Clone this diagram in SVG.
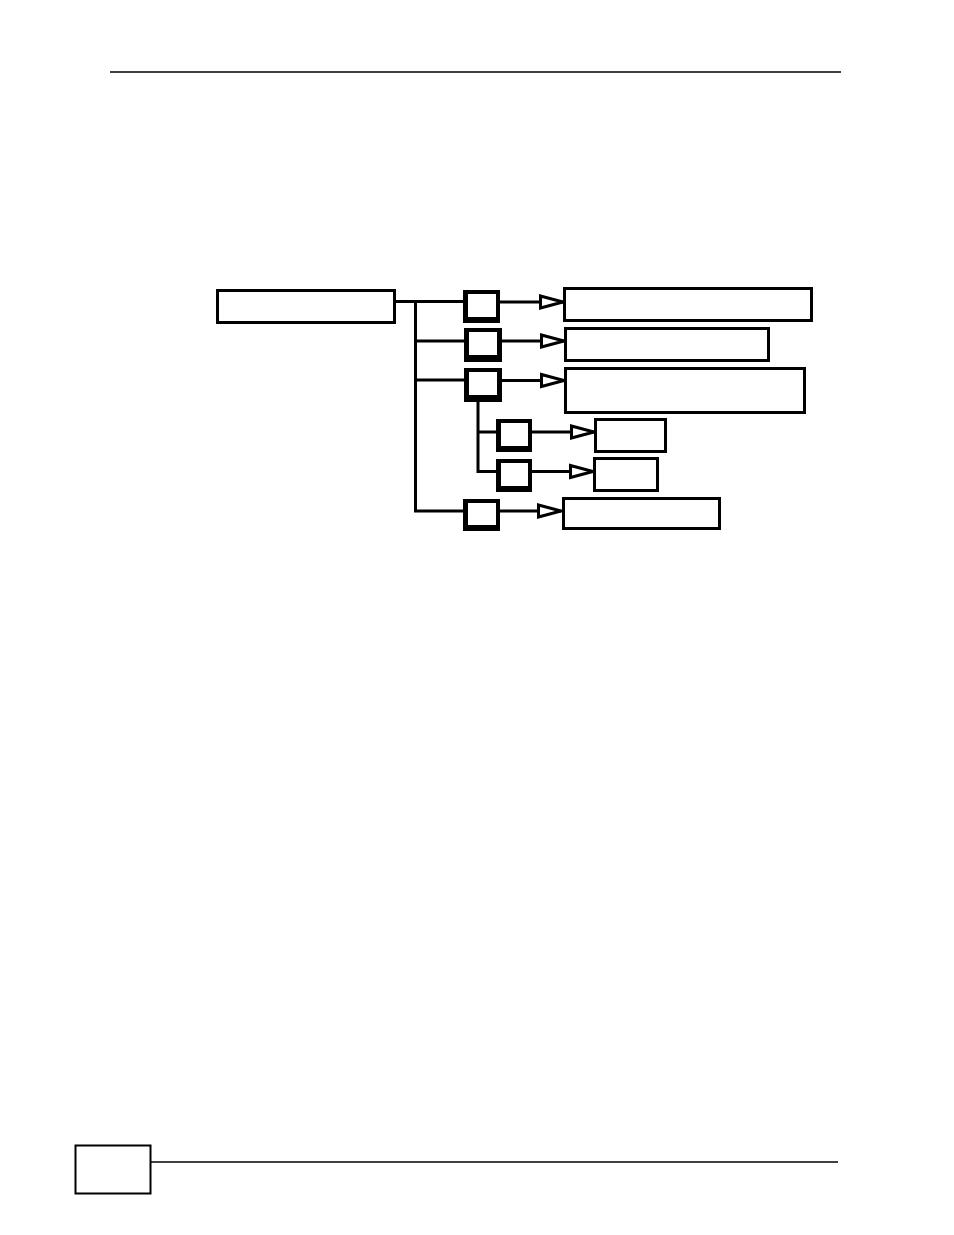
<svg xmlns="http://www.w3.org/2000/svg" width="954" height="1235" viewBox="0 0 954 1235">
<defs>
<style>
.box{fill:#fff;stroke:#000;stroke-width:3}
.ln{stroke:#000;stroke-width:3;fill:none}
.thin{stroke:#000;stroke-width:1.5;fill:none}
.sq{fill:#000}
.sqi{fill:#fff}
</style>
<marker id="arr" markerUnits="userSpaceOnUse" markerWidth="30" markerHeight="20" refX="24" refY="7" orient="auto" overflow="visible">
<path d="M1.5,1 L24,7 L1.5,13 Z" fill="#fff" stroke="#000" stroke-width="3" stroke-linejoin="miter"/>
</marker>
</defs>
<rect width="954" height="1235" fill="#fff"/>
<g id="page">
<line class="thin" x1="110" y1="72" x2="841" y2="72"/>
<rect x="75.5" y="1145.5" width="75" height="48" fill="none" stroke="#000" stroke-width="2"/>
<line class="thin" x1="151" y1="1162" x2="838" y2="1162"/>
</g>
<g id="connectors">
<path class="ln" d="M395,301.5 H463 M415.5,301.5 V511 H463 M415.5,341 H464 M415.5,380 H464 M478,402 V471.5 H496 M478,432 H496"/>
<line class="ln" x1="500" y1="302" x2="563" y2="302" marker-end="url(#arr)"/>
<line class="ln" x1="502" y1="341" x2="564" y2="341" marker-end="url(#arr)"/>
<line class="ln" x1="502" y1="380.5" x2="564" y2="380.5" marker-end="url(#arr)"/>
<line class="ln" x1="532" y1="432" x2="594" y2="432" marker-end="url(#arr)"/>
<line class="ln" x1="532" y1="471.5" x2="593" y2="471.5" marker-end="url(#arr)"/>
<line class="ln" x1="500" y1="511" x2="561" y2="511" marker-end="url(#arr)"/>
</g>
<g id="root"><rect class="box" x="217.5" y="290.5" width="177" height="32"/></g>
<g id="s1"><rect class="sq" x="463" y="290" width="37" height="33"/><rect class="sqi" x="468" y="294" width="28" height="23"/></g>
<g id="s2"><rect class="sq" x="464" y="328" width="38" height="34"/><rect class="sqi" x="469" y="332" width="28" height="23"/></g>
<g id="s3"><rect class="sq" x="464" y="368" width="38" height="34"/><rect class="sqi" x="469" y="372" width="28" height="23"/></g>
<g id="s4"><rect class="sq" x="496" y="419" width="36" height="33"/><rect class="sqi" x="501" y="423" width="27" height="23"/></g>
<g id="s5"><rect class="sq" x="496" y="459" width="36" height="33"/><rect class="sqi" x="501" y="463" width="27" height="23"/></g>
<g id="s6"><rect class="sq" x="463" y="499" width="37" height="32"/><rect class="sqi" x="468" y="503" width="28" height="22"/></g>
<g id="t1"><rect class="box" x="564.5" y="288.5" width="247" height="32"/></g>
<g id="t2"><rect class="box" x="565.5" y="328.5" width="203" height="32"/></g>
<g id="t3"><rect class="box" x="565.5" y="368.5" width="239" height="44"/></g>
<g id="t4"><rect class="box" x="595.5" y="419.5" width="70" height="32"/></g>
<g id="t5"><rect class="box" x="594.5" y="458.5" width="63" height="32"/></g>
<g id="t6"><rect class="box" x="563.5" y="498.5" width="156" height="30"/></g>
</svg>
